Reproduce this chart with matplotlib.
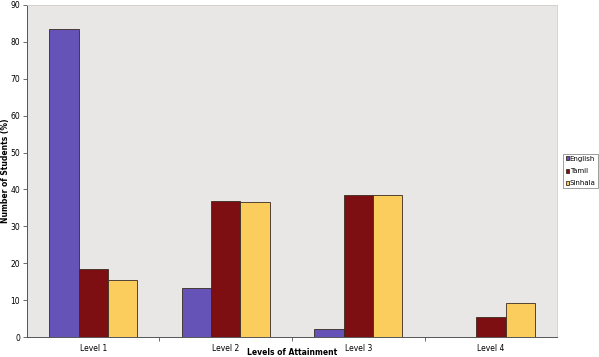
import matplotlib
matplotlib.use("Agg")
import matplotlib.pyplot as plt
import numpy as np

levels = ["Level 1", "Level 2", "Level 3", "Level 4"]
english = [83.5, 13.4, 2.2, 0.0]
tamil = [18.3, 37.0, 38.6, 5.4]
sinhala = [15.4, 36.7, 38.6, 9.1]

series = [("English", english, "#6653b8"),
          ("Tamil", tamil, "#7d0f12"),
          ("Sinhala", sinhala, "#fbcd5c")]

fig = plt.figure(figsize=(5.99, 3.57), dpi=100)
ax = fig.add_axes([0.045, 0.056, 0.885, 0.930])
ax.set_facecolor("#e9e7e5")

x = np.arange(len(levels))
w = 0.222
for i, (name, vals, col) in enumerate(series):
    ax.bar(x + (i - 1) * w, vals, w, color=col, edgecolor="#3a2a20",
           linewidth=0.6, label=name)

ax.set_xlim(-0.5, len(levels) - 0.5)
ax.set_ylim(0, 90)
ax.set_yticks(np.arange(0, 91, 10))
ax.set_xticks(x)
ax.set_xticklabels(levels)
ax.set_xticks(np.arange(0.5, len(levels) - 0.5, 1), minor=True)
ax.tick_params(axis="x", which="major", length=0, labelsize=5.5, pad=5)
ax.tick_params(axis="x", which="minor", length=3, width=0.6, color="#555555")
ax.tick_params(axis="y", length=3, width=0.6, labelsize=5.5, pad=2, color="#555555")

for s in ["top", "right"]:
    ax.spines[s].set_color("#d0cecc")
    ax.spines[s].set_linewidth(0.6)
for s in ["left", "bottom"]:
    ax.spines[s].set_color("#555555")
    ax.spines[s].set_linewidth(0.7)

ax.set_ylabel("Number of Students (%)", fontsize=5.5, fontweight="bold", va="center")
ax.yaxis.set_label_coords(-0.041, 0.5)
ax.set_xlabel("Levels of Attainment", fontsize=5.5, fontweight="bold", va="center")
ax.xaxis.set_label_coords(0.5, -0.048)

leg = ax.legend(loc="center left", bbox_to_anchor=(1.012, 0.5), fontsize=5,
                handlelength=0.5, handleheight=0.5, handletextpad=0.1,
                borderpad=0.3, labelspacing=0.9, frameon=True, fancybox=False,
                borderaxespad=0)
leg.get_frame().set_edgecolor("#555555")
leg.get_frame().set_linewidth(0.5)

fig.savefig("out.png", dpi=100)
plt.close()
